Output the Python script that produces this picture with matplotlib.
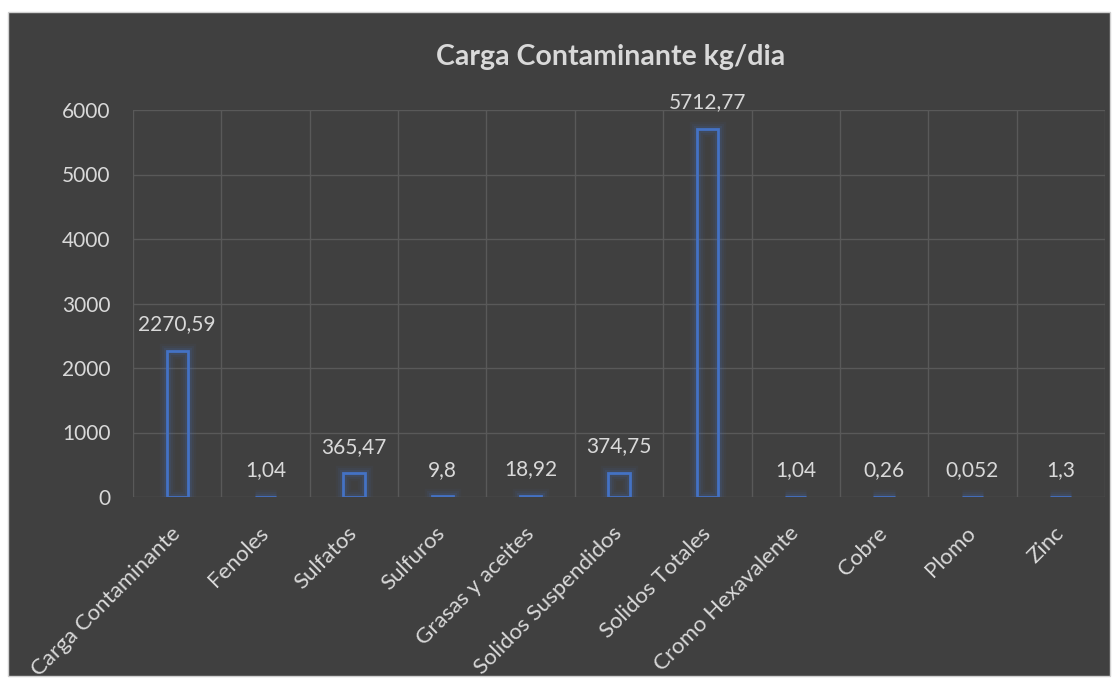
import matplotlib.pyplot as plt
from matplotlib.patches import Rectangle
import numpy as np

categorias = ["Carga Contaminante", "Fenoles", "Sulfatos", "Sulfuros", "Grasas y aceites",
              "Solidos Suspendidos", "Solidos Totales", "Cromo Hexavalente", "Cobre", "Plomo", "Zinc"]
valores = [2270.59, 1.04, 365.47, 9.8, 18.92, 374.75, 5712.77, 1.04, 0.26, 0.052, 1.3]
etiquetas = ["2270,59", "1,04", "365,47", "9,8", "18,92", "374,75", "5712,77", "1,04", "0,26", "0,052", "1,3"]

fondo = "#404040"
azul = "#4472C4"
texto = "#D9D9D9"
plt.rcParams['font.family'] = ['Lato', 'DejaVu Sans']

fig = plt.figure(figsize=(11.2, 6.86), dpi=100, facecolor="white")
# panel oscuro del grafico
fig.patches.append(Rectangle((8 / 1120, 10 / 686), 1102 / 1120, 664 / 686, transform=fig.transFigure,
                             facecolor=fondo, edgecolor="#D0D0D0", linewidth=1, zorder=-5))

ax = fig.add_axes([133 / 1120, 1 - 497 / 686, 972 / 1120, 387 / 686])
ax.set_facecolor(fondo)
x = np.arange(len(categorias))
ancho = 0.24

# brillo alrededor de las barras
for lw, a in [(11, 0.05), (8, 0.08), (5, 0.12)]:
    ax.bar(x, valores, width=ancho, facecolor="none", edgecolor=azul, linewidth=lw, alpha=a, zorder=2)
ax.bar(x, valores, width=ancho, facecolor="none", edgecolor=azul, linewidth=2, zorder=3)

for xi, v, t in zip(x, valores, etiquetas):
    ax.text(xi, v + 260, t, ha="center", va="bottom", color=texto, fontsize=15)

ax.set_xlim(-0.5, len(categorias) - 0.5)
ax.set_ylim(0, 6000)
ax.set_yticks(range(0, 6001, 1000))
ax.set_xticks(x)
ax.set_xticklabels(categorias, rotation=45, ha="right", va="center", rotation_mode="anchor",
                   color=texto, fontsize=16)
ax.tick_params(axis="y", colors=texto, labelsize=15, length=0, pad=16)
ax.tick_params(axis="x", length=0, pad=24)
for s in ax.spines.values():
    s.set_visible(False)
ax.grid(axis="y", color="#595959", linewidth=1)
ax.set_axisbelow(True)
for b in np.arange(-0.5, len(categorias), 1.0):
    ax.axvline(b, color="#595959", linewidth=1, zorder=0)

fig.text(611 / 1120, 1 - 57 / 686, "Carga Contaminante kg/dia", ha="center", va="center",
         color=texto, fontsize=20.5, fontweight="bold")

fig.savefig("out.png", dpi=100, facecolor="white")
